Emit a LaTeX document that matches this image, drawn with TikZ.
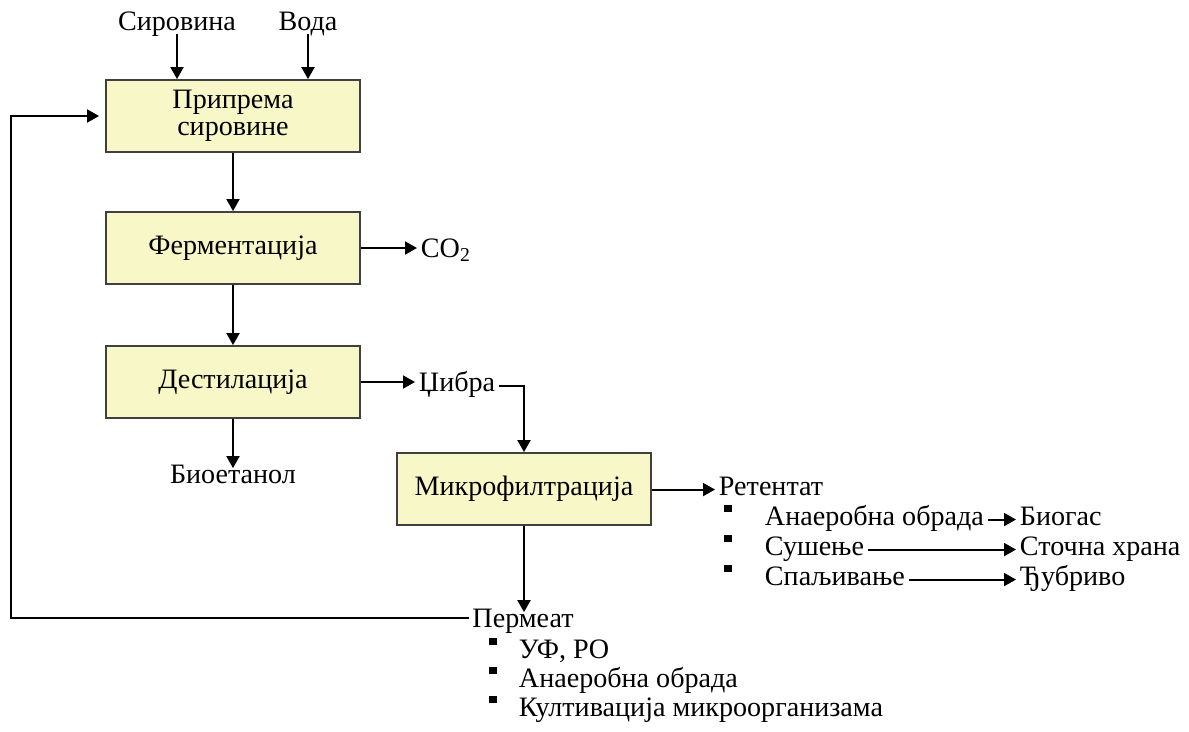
\documentclass[tikz,border=0pt]{standalone}
\usepackage{fontspec}
\setmainfont{LiberationSerif}[Extension=.ttf, UprightFont=*-Regular, BoldFont=*-Bold, ItalicFont=*-Italic, BoldItalicFont=*-BoldItalic]
\usetikzlibrary{arrows.meta, positioning, calc}
\definecolor{boxfill}{RGB}{247,247,200}
\definecolor{boxline}{RGB}{64,64,64}
\newcommand{\sqbul}{\rule[0.45em]{0.27em}{0.27em}}

\begin{document}
\begin{tikzpicture}[
    x=0.02cm, y=-0.02cm,
    font=\fontsize{16}{15.5}\selectfont,
    line width=1.1pt,
    stage/.style={draw=boxline, fill=boxfill, minimum width=5.08cm, minimum height=1.44cm, align=center, inner sep=2pt},
    lbl/.style={inner xsep=0.06cm, inner ysep=0.06cm, text height=0.62em, text depth=0pt, anchor=base west},
    arrow/.style={-{Triangle[length=0.24cm, width=0.26cm]}}
]
    \useasboundingbox (0,0) rectangle (1189,731);

    % Process stages
    \node[stage] (prep) at (233,116) {Припрема\\сировине};
    \node[stage] (ferm) at (233,248) {Ферментација};
    \node[stage] (dest) at (233,382) {Дестилација};
    \node[stage] (mf) at (524,489) {Микрофилтрација};

    % Inputs
    \node[lbl, anchor=base] (sir) at (177,30) {Сировина};
    \node[lbl, anchor=base] (voda) at (308,30) {Вода};
    \draw[arrow] (sir.south) -- (sir.south |- prep.north);
    \draw[arrow] (voda.south) -- (voda.south |- prep.north);

    % Main line
    \draw[arrow] (prep) -- (ferm);
    \draw[arrow] (ferm) -- (dest);

    % Side products
    \node[lbl] (co2) at (417,257) {CO\textsubscript{2}};
    \node[lbl] (cib) at (415,391) {Џибра};
    \node[lbl, anchor=base] (bio) at (233,483) {Биоетанол};
    \draw[arrow] (ferm.east) -- (ferm.east -| co2.west);
    \draw[arrow] (dest.east) -- (dest.east -| cib.west);
    \draw[arrow] (dest) -- (bio);
    \draw[arrow] (cib.east) -| (mf.north);

    % Retentate
    \node[lbl] (ret) at (715,495) {Ретентат};
    \draw[arrow] (mf.east |- ret.west) -- (ret.west);
    \foreach \y [count=\i] in {525,555,585}
        \node[lbl, inner xsep=0pt] (rb\i) at (723,\y) {\sqbul};
    \node[lbl] (ra1) at (761,525) {Анаеробна обрада};
    \node[lbl] (ra2) at (761,555) {Сушење};
    \node[lbl] (ra3) at (761,585) {Спаљивање};
    \node[lbl] (rt1) at (1016,525) {Биогас};
    \node[lbl] (rt2) at (1016,555) {Сточна храна};
    \node[lbl] (rt3) at (1016,585) {Ђубриво};
    \foreach \i in {1,2,3}
        \draw[arrow] (ra\i.east) -- (rt\i.west);

    % Permeate
    \node[lbl, anchor=base] (perm) at (523,627) {Пермеат};
    \draw[arrow] (mf.south) -- (mf.south |- perm.north);
    \foreach \y [count=\i] in {658,687,716}
        \node[lbl, inner xsep=0pt] (pb\i) at (488,\y) {\sqbul};
    \node[lbl] (pa1) at (515,658) {УФ, РО};
    \node[lbl] (pa2) at (515,687) {Анаеробна обрада};
    \node[lbl] (pa3) at (515,716) {Култивација микроорганизама};

    % Recycle of permeate
    \coordinate (fb) at (11,116);
    \draw[arrow, shorten >=0.12cm] ([yshift=0.08cm]perm.west) -| (fb) -- (prep.west);

\end{tikzpicture}
\end{document}
